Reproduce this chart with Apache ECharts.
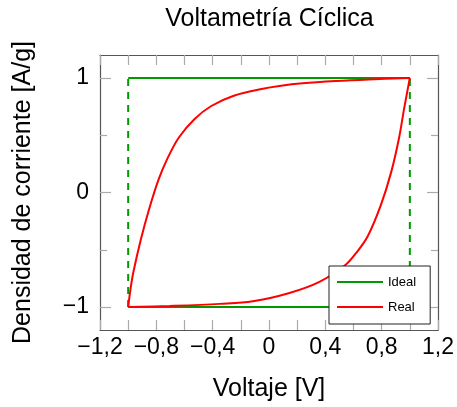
<!DOCTYPE html>
<html>
<head>
<meta charset="utf-8">
<script src="https://cdn.jsdelivr.net/npm/echarts@6/dist/echarts.min.js"></script>
<style>html,body{margin:0;padding:0;background:#fff;}#c{width:457px;height:407px;}</style>
</head>
<body>
<div id="c"></div>
<script>
const xTickLabels = [-1.2, -0.8, -0.4, 0, 0.4, 0.8, 1.2];
const yTickLabels = [-1, 0, 1];
const yMinorTicks = [-0.5, 0.5];

const idealX = [-1, 1];
const idealTopY = [1, 1];
const idealBottomY = [-1, -1];

const realUpX = [-1.0, -0.983, -0.964, -0.91, -0.85, -0.785, -0.72, -0.64, -0.53, -0.41, -0.25, -0.044, 0.074, 0.239, 0.476, 0.711, 1.0];
const realUpY = [-1.0, -0.84, -0.70, -0.41, -0.14, 0.11, 0.30, 0.48, 0.64, 0.755, 0.845, 0.906, 0.93, 0.953, 0.973, 0.987, 1.0];
const realDownX = [1.0, 0.959, 0.924, 0.868, 0.794, 0.70, 0.617, 0.54, 0.358, 0.145, -0.115, -0.35, -0.704, -1.0];
const realDownY = [1.0, 0.73, 0.48, 0.18, -0.11, -0.384, -0.53, -0.635, -0.78, -0.877, -0.95, -0.972, -0.99, -1.0];

const zip = (xs, ys) => xs.map((x, i) => [x, ys[i]]);
const FONT = 'Liberation Sans';
const GREEN = '#009a00';
const RED = '#ff0000';
const fmt = v => {
  if (Math.abs(v) < 1e-9) return '0';
  const s = String(+Math.abs(v).toFixed(2)).replace('.', ',');
  return (v < 0 ? '\u2212' : '') + s;
};

const frameLine = {show: true, onZero: false, lineStyle: {color: '#555', width: 1.2}};
const tickStyle = {color: '#aaa', width: 1.2};
const lineIcon = 'path://M0,0 L46,0 L46,2 L0,2 Z';

const chart = echarts.init(document.getElementById('c'), null, {renderer: 'canvas'});
chart.setOption({
  animation: false,
  backgroundColor: '#fff',
  title: {
    text: 'Voltametría Cíclica',
    left: 269.5, top: 7, padding: 0, textAlign: 'center',
    textStyle: {fontFamily: FONT, fontSize: 25, fontWeight: 'normal', color: '#000'}
  },
  grid: {left: 100, right: 18, top: 55, bottom: 77, containLabel: false},
  legend: {
    orient: 'vertical',
    left: 329, top: 266,
    data: [{name: 'Ideal', icon: lineIcon}, {name: 'Real', icon: lineIcon}],
    itemWidth: 46, itemHeight: 2, itemGap: 11,
    padding: [9, 14, 10, 8],
    borderColor: '#222', borderWidth: 1,
    backgroundColor: '#fff',
    textStyle: {fontFamily: FONT, fontSize: 13, color: '#000', lineHeight: 14}
  },
  xAxis: [
    {type: 'value', position: 'bottom', min: -1.2, max: 1.2, interval: 0.2,
     axisLine: frameLine,
     axisTick: {show: true, inside: true, length: 10, lineStyle: tickStyle},
     axisLabel: {show: true, customValues: xTickLabels, formatter: fmt, margin: 6,
       fontFamily: FONT, fontSize: 23, color: '#000', showMinLabel: true, showMaxLabel: true, hideOverlap: false},
     splitLine: {show: false},
     name: 'Voltaje [V]', nameLocation: 'middle', nameGap: 47,
     nameTextStyle: {fontFamily: FONT, fontSize: 25, color: '#000'}},
    {type: 'value', position: 'top', min: -1.2, max: 1.2, interval: 0.2,
     axisLine: frameLine,
     axisTick: {show: true, inside: true, length: 10, lineStyle: tickStyle},
     axisLabel: {show: false}, splitLine: {show: false}}
  ],
  yAxis: [
    {type: 'value', position: 'left', min: -1.2, max: 1.2,
     axisLine: frameLine,
     axisTick: {show: true, inside: true, length: 11, customValues: yTickLabels, lineStyle: tickStyle},
     axisLabel: {show: true, customValues: yTickLabels, formatter: fmt, margin: 11,
       fontFamily: FONT, fontSize: 23, color: '#000'},
     splitLine: {show: false},
     name: 'Densidad de corriente [A/g]', nameLocation: 'middle', nameGap: 64,
     nameTextStyle: {fontFamily: FONT, fontSize: 25, color: '#000'}},
    {type: 'value', position: 'left', min: -1.2, max: 1.2,
     axisLine: {show: false, onZero: false},
     axisTick: {show: true, inside: true, length: 7, customValues: yMinorTicks, lineStyle: tickStyle},
     axisLabel: {show: false}, splitLine: {show: false}},
    {type: 'value', position: 'right', min: -1.2, max: 1.2,
     axisLine: frameLine,
     axisTick: {show: true, inside: true, length: 11, customValues: yTickLabels, lineStyle: tickStyle},
     axisLabel: {show: false}, splitLine: {show: false}},
    {type: 'value', position: 'right', min: -1.2, max: 1.2,
     axisLine: {show: false, onZero: false},
     axisTick: {show: true, inside: true, length: 7, customValues: yMinorTicks, lineStyle: tickStyle},
     axisLabel: {show: false}, splitLine: {show: false}}
  ],
  series: [
    {name: 'IdealDash', type: 'line', symbol: 'none', silent: true,
     data: [[idealX[0], idealBottomY[0]], [idealX[0], idealTopY[0]]],
     lineStyle: {color: GREEN, width: 2, type: [7, 6]}},
    {name: 'IdealDash', type: 'line', symbol: 'none', silent: true,
     data: [[idealX[1], idealBottomY[1]], [idealX[1], idealTopY[1]]],
     lineStyle: {color: GREEN, width: 2, type: [7, 6]}},
    {name: 'Ideal', type: 'line', symbol: 'none', data: zip(idealX, idealTopY),
     itemStyle: {color: GREEN}, lineStyle: {color: GREEN, width: 2}},
    {name: 'Ideal', type: 'line', symbol: 'none', data: zip(idealX, idealBottomY),
     itemStyle: {color: GREEN}, lineStyle: {color: GREEN, width: 2}},
    {name: 'Real', type: 'line', symbol: 'none', smooth: 0.35, data: zip(realUpX, realUpY),
     itemStyle: {color: RED}, lineStyle: {color: RED, width: 2}},
    {name: 'Real', type: 'line', symbol: 'none', smooth: 0.35, data: zip(realDownX, realDownY),
     itemStyle: {color: RED}, lineStyle: {color: RED, width: 2}}
  ]
});
</script>
</body>
</html>
